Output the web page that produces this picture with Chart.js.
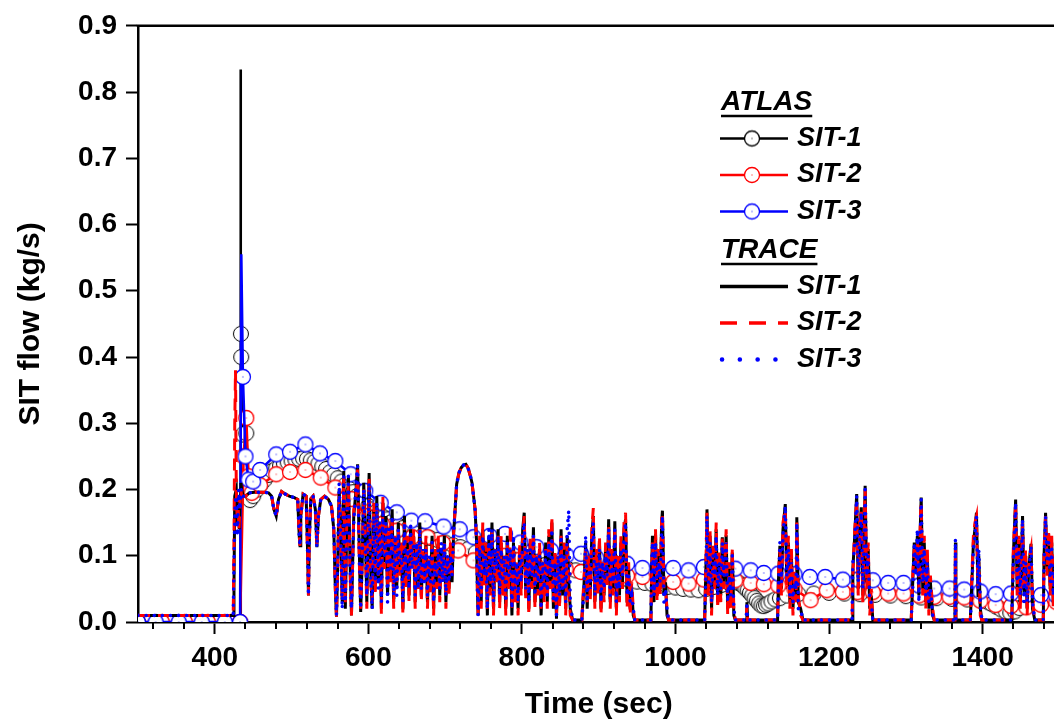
<!DOCTYPE html>
<html>
<head>
<meta charset="utf-8">
<title>SIT flow</title>
<script src="https://cdn.jsdelivr.net/npm/chart.js@4.4.0/dist/chart.umd.min.js"></script>
<style>
    html, body { margin: 0; padding: 0; background: #fff; overflow: hidden; }
    #wrap { width: 1054px; height: 723px; overflow: hidden; }
    canvas { display: block; }
</style>
</head>
<body>
<div id="wrap"><canvas id="sit-flow-chart" width="1070" height="723"></canvas></div>
<script>
// Axis range and tick labels
const xRange = [300, 1500];
const xTickLabels = [400, 600, 800, 1000, 1200, 1400];
const yTickValues = [0, 0.1, 0.2, 0.3, 0.4, 0.5, 0.6, 0.7, 0.8, 0.9];
const seriesNames = ['SIT-1', 'SIT-2', 'SIT-3'];
const groupNames = ['ATLAS', 'TRACE'];

// ATLAS measurements [time (s), flow (kg/s)]
const atlasSit1 = [
    [300,0],[316,0],[346,0],[376,0],[406,0],[433,0],[433.6,0.834],[434,0.435],[434.4,0.4],[436.5,0.283],[441,0.285],[444,0.198],[446,0.184],
    [450,0.19],[455,0.2],[460,0.208],[465,0.215],[470,0.222],[475,0.228],[480,0.232],[485,0.236],[490,0.239],[495,0.241],[500,0.243],
    [505,0.245],[510,0.246],[515,0.247],[520,0.246],[525,0.244],[530,0.242],[535,0.239],[540,0.235],[545,0.231],[550,0.226],[555,0.222],
    [560,0.217],[565,0.212],[570,0.207],[575,0.201],[580,0.196],[585,0.19],[590,0.185],[595,0.18],[600,0.175],[605,0.17],[610,0.166],
    [615,0.162],[620,0.158],[625,0.155],[630,0.151],[635,0.148],[640,0.145],[645,0.142],[650,0.139],[655,0.137],[660,0.134],[670,0.13],
    [680,0.127],[690,0.124],[700,0.12],[710,0.116],[720,0.113],[730,0.11],[740,0.105],[750,0.102],[760,0.1],[770,0.098],[780,0.096],
    [790,0.094],[800,0.092],[810,0.09],[820,0.088],[830,0.086],[840,0.084],[850,0.082],[860,0.08],[870,0.078],[880,0.076],[890,0.074],
    [900,0.071],[910,0.069],[920,0.067],[930,0.065],[940,0.063],[950,0.061],[960,0.059],[970,0.057],[980,0.055],[990,0.053],[1000,0.052],
    [1010,0.05],[1020,0.049],[1030,0.048],[1040,0.05],[1050,0.053],[1060,0.056],[1070,0.059],[1080,0.06],[1084,0.058],[1088,0.055],
    [1091,0.051],[1094,0.048],[1097,0.044],[1100,0.04],[1103,0.036],[1106,0.032],[1109,0.028],[1112,0.025],[1115,0.024],[1118,0.026],
    [1121,0.028],[1125,0.031],[1130,0.034],[1136,0.036],[1145,0.04],[1160,0.042],[1180,0.043],[1200,0.044],[1220,0.043],[1240,0.042],
    [1260,0.041],[1280,0.04],[1300,0.039],[1320,0.037],[1340,0.036],[1360,0.035],[1380,0.034],[1400,0.033],[1407,0.03],[1412,0.027],
    [1418,0.023],[1424,0.019],[1430,0.016],[1436,0.014],[1442,0.016],[1448,0.021],[1455,0.026],[1465,0.03],[1480,0.033],[1500,0.035]
];
const atlasSit2 = [
    [300,0],[331,0],[361,0],[391,0],[421,0],[433,0],[437.5,0.25],[441,0.308],[444,0.22],[448,0.195],[459,0.2065],[480,0.223],
    [498,0.2265],[518,0.2295],[538,0.218],[557,0.203],[578,0.1855],[598,0.16],[618,0.148],[637,0.138],[657,0.128],[677,0.128],[697,0.119],
    [717,0.108],[737,0.093],[757,0.098],[777,0.1],[797,0.094],[817,0.088],[837,0.084],[857,0.08],[877,0.0755],[897,0.073],[917,0.071],
    [937,0.07],[957,0.068],[977,0.064],[997,0.0605],[1017,0.058],[1037,0.064],[1057,0.063],[1078,0.063],[1098,0.059],[1115,0.057],
    [1134,0.055],[1155,0.05],[1176,0.033],[1197,0.048],[1218,0.0455],[1237,0.045],[1257,0.045],[1277,0.043],[1297,0.043],[1317,0.04],
    [1337,0.038],[1357,0.038],[1376,0.037],[1397,0.032],[1417,0.0255],[1437,0.024],[1457,0.022],[1476,0.026],[1496,0.03]
];
const atlasSit3 = [
    [300,0],[323,0],[353,0],[383,0],[413,0],[433,0],[434.5,0.555],[436.6,0.37],[440,0.25],[444,0.215],[450,0.212],[459,0.2295],[480,0.253],
    [498,0.257],[518,0.268],[537,0.2545],[557,0.243],[577,0.223],[596,0.198],[616,0.18],[637,0.1655],[656,0.153],[674,0.152],[698,0.144],
    [719,0.14],[737,0.128],[758,0.13],[778,0.133],[798,0.12],[819,0.113],[838,0.108],[858,0.1005],[877,0.103],[897,0.097],[917,0.092],
    [937,0.088],[957,0.0815],[977,0.082],[997,0.0815],[1017,0.078],[1037,0.083],[1057,0.08],[1078,0.0805],[1098,0.078],[1115,0.074],
    [1134,0.073],[1155,0.072],[1175,0.068],[1195,0.068],[1218,0.064],[1237,0.064],[1257,0.063],[1277,0.059],[1297,0.059],[1317,0.055],
    [1337,0.0505],[1357,0.0505],[1376,0.049],[1397,0.046],[1417,0.042],[1437,0.043],[1457,0.041],[1476,0.0405],[1496,0.04]
];

// TRACE calculation [time (s), flow (kg/s)]
const traceSit1 = [
    [300,.01],[424,.01],[425,.05],[426,.19],[428,.2],[429,.15],[430,.19],[431,.18],[432,.14],[433,.19],[434,.21],[435,.2],[437,.19],[440,.19],
    [445,.195],[452,.196],[462,.196],[470,.195],[474,.19],[477,.17],[480,.16],[483,.185],[487,.197],[492,.193],[497,.19],[503,.188],[508,.185],
    [510,.13],[511,.115],[512,.16],[515,.193],[519,.19],[521,.1],[522,.04],[523,.12],[525,.186],[528,.19],[531,.17],[533,.113],[535,.16],
    [538,.185],[543,.19],[548,.185],[552,.175],[555,.14],[557,.05],[558.5,.008],[560,.08],[562,.2],[564,.14],[566,.03],[568,.228],[570,.02],
    [572,.15],[574,.22],[576,.1],[578,.01],[581,.16],[584,.2],[586,.238],[588,.12],[590,.015],[592,.09],[594,.21],[596,.14],[598,.03],
    [601,.225],[603,.08],[605,.02],[607,.17],[609,.05],[611,.19],[613,.06],[615,.14],[617,.02],[619,.18],[621,.09],[623,.16],[625,.04],
    [627,.13],[629,.07],[631,.17],[633,.03],[635,.12],[637,.05],[639,.15],[641,.08],[643,.11],[645,.02],[647,.16],[649,.06],[651,.12],
    [653,.04],[655,.14],[657,.09],[659,.13],[661,.03],[663,.11],[665,.06],[667,.15],[669,.04],[671,.1],[673,.07],[675,.12],[677,.03],
    [679,.09],[681,.05],[683,.13],[685,.02],[687,.1],[689,.06],[691,.12],[693,.04],[695,.11],[697,.07],[699,.13],[701,.03],[703,.09],
    [705,.05],[707,.11],[709,.06],[711,.133],[713,.17],[715,.208],[718,.225],[721,.233],[724,.237],[727,.238],[730,.232],[733,.22],
    [735,.21],[737,.19],[739,.17],[741,.12],[742,.05],[743,.01],[745,.12],[747,.03],[749,.14],[751,.06],[753,.11],[755,.01],[757,.13],
    [759,.05],[761,.15],[763,.02],[765,.1],[767,.07],[769,.14],[771,.03],[773,.12],[775,.05],[777,.09],[779,.02],[781,.13],[783,.06],
    [785,.1],[787,.01],[789,.12],[791,.04],[793,.08],[795,.02],[797,.11],[799,.05],[801,.14],[803,.165],[805,.04],[807,.1],[809,.02],
    [811,.12],[813,.06],[815,.143],[817,.03],[819,.09],[821,.05],[823,.11],[825,.01],[827,.08],[829,.04],[831,.12],[833,.03],[835,.13],
    [837,.06],[839,.15],[841,.02],[843,.1],[845,.005],[847,.09],[849,.03],[851,.14],[853,.04],[855,.11],[857,.02],[859,.13],[861,.06],
    [863,.02],[866,.003],[878,.003],[881,.06],[883,.12],[885,.02],[887,.09],[889,.04],[891,.13],[893,.16],[895,.03],[897,.1],[899,.05],
    [901,.12],[903,.02],[905,.08],[907,.04],[909,.11],[911,.06],[913,.155],[915,.03],[917,.1],[919,.05],[921,.152],[923,.02],[925,.09],
    [927,.04],[929,.12],[931,.06],[933,.14],[935,.155],[937,.03],[939,.08],[941,.02],[943,.05],[945,.01],[947,.003],[968,.003],[969,.08],
    [970,.13],[972,.03],[974,.133],[976,.04],[978,.1],[980,.05],[982,.15],[983,.168],[985,.04],[987,.06],[989,.01],[991,.003],[1038,.003],
    [1040,.1],[1041,.17],[1043,.05],[1045,.13],[1047,.02],[1049,.11],[1051,.06],[1053,.14],[1055,.03],[1057,.1],[1059,.04],[1061,.128],
    [1063,.06],[1066,.131],[1068,.02],[1070,.08],[1072,.03],[1074,.105],[1076,.01],[1078,.003],[1092,.003],[1093,.03],[1094,.003],
    [1133,.003],[1134,.06],[1136,.115],[1138,.05],[1140,.14],[1143,.178],[1145,.06],[1147,.12],[1149,.03],[1151,.1],[1153,.02],[1155,.07],
    [1157,.04],[1158,.158],[1160,.03],[1163,.02],[1166,.003],[1230,.003],[1231,.08],[1233,.12],[1236,.193],[1238,.05],[1240,.14],
    [1242,.173],[1244,.04],[1246,.15],[1247,.2055],[1249,.06],[1251,.11],[1253,.02],[1255,.04],[1257,.003],[1307,.003],[1309,.06],
    [1311,.12],[1313,.08],[1315,.13],[1317,.04],[1319,.15],[1320,.188],[1322,.05],[1324,.12],[1326,.03],[1328,.1],[1330,.02],[1332,.06],
    [1335,.01],[1337,.003],[1364,.003],[1364.6,.12],[1365.2,.003],[1384,.003],[1386,.06],[1388,.12],[1390,.14],[1392,.165],[1394,.04],
    [1395,.1],[1397,.02],[1399,.003],[1438,.003],[1440,.1],[1443,.185],[1445,.05],[1447,.12],[1449,.03],[1452,.16],[1454,.04],[1456,.1],
    [1458,.02],[1460,.08],[1463,.118],[1465,.02],[1468,.003],[1479,.003],[1480,.1],[1482,.165],[1484,.08],[1486,.13],[1488,.05],[1490,.12],
    [1492,.03],[1495,.1],[1500,.08]
];
const traceSit2 = [
    [300,.01],[424,.01],[425,.12],[426,.3],[427,.38],[428,.2],[429,.16],[430,.19],[431.5,.14],[433,.18],[434,.2],[435,.19],[437,.19],[440,.19],
    [445,.195],[452,.196],[462,.196],[470,.195],[474,.19],[477,.17],[480,.16],[483,.185],[487,.197],[492,.193],[497,.19],[503,.188],[508,.185],
    [510,.13],[511,.115],[512,.16],[515,.193],[519,.19],[521,.1],[522,.04],[523,.12],[525,.186],[528,.19],[531,.17],[533,.113],[535,.16],
    [538,.185],[543,.19],[548,.185],[552,.175],[555,.14],[557,.05],[558.5,.008],[560,.08],[562,.19],[564,.12],[566,.03],[568,.22],[570,.03],
    [572,.16],[574,.21],[576,.08],[578,.01],[581,.17],[584,.19],[586,.23],[588,.1],[590,.02],[592,.1],[594,.2],[596,.12],[598,.02],
    [601,.22],[603,.06],[605,.03],[607,.18],[609,.04],[611,.17],[613,.07],[615,.15],[617,.01],[619,.19],[621,.08],[623,.15],[625,.05],
    [627,.14],[629,.06],[631,.16],[633,.02],[635,.13],[637,.06],[639,.14],[641,.07],[643,.12],[645,.01],[647,.15],[649,.05],[651,.13],
    [653,.03],[655,.13],[657,.08],[659,.14],[661,.02],[663,.12],[665,.05],[667,.14],[669,.03],[671,.11],[673,.06],[675,.13],[677,.02],
    [679,.1],[681,.04],[683,.12],[685,.01],[687,.11],[689,.05],[691,.13],[693,.03],[695,.1],[697,.06],[699,.12],[701,.02],[703,.1],
    [705,.04],[707,.12],[709,.07],[711,.133],[713,.17],[715,.208],[718,.225],[721,.233],[724,.237],[727,.238],[730,.232],[733,.22],
    [735,.21],[737,.19],[739,.17],[741,.12],[742,.05],[743,.01],[745,.13],[747,.02],[749,.15],[751,.05],[753,.12],[755,.02],[757,.12],
    [759,.04],[761,.14],[763,.01],[765,.11],[767,.06],[769,.13],[771,.02],[773,.13],[775,.04],[777,.1],[779,.01],[781,.12],[783,.05],
    [785,.147],[787,.02],[789,.11],[791,.03],[793,.09],[795,.01],[797,.12],[799,.04],[801,.13],[803,.16],[805,.03],[807,.11],[809,.01],
    [811,.13],[813,.05],[815,.13],[817,.02],[819,.1],[821,.04],[823,.12],[825,.02],[827,.09],[829,.03],[831,.11],[833,.02],[835,.14],
    [837,.05],[839,.16],[841,.03],[843,.11],[845,.01],[847,.1],[849,.02],[851,.13],[853,.05],[855,.12],[857,.01],[859,.12],[861,.05],
    [863,.01],[866,.003],[878,.003],[881,.07],[883,.11],[885,.03],[887,.1],[889,.03],[891,.14],[893,.172],[895,.02],[897,.11],[899,.04],
    [901,.13],[903,.01],[905,.09],[907,.03],[909,.12],[911,.05],[913,.145],[915,.02],[917,.11],[919,.04],[921,.14],[923,.01],[925,.1],
    [927,.03],[929,.13],[931,.05],[933,.15],[935,.165],[937,.02],[939,.09],[941,.01],[943,.06],[945,.02],[947,.003],[968,.003],[969,.07],
    [970,.12],[972,.04],[974,.14],[976,.03],[978,.11],[980,.04],[982,.16],[983,.165],[985,.05],[987,.05],[989,.02],[991,.003],[1038,.003],
    [1040,.11],[1041,.165],[1043,.04],[1045,.14],[1047,.01],[1049,.12],[1051,.05],[1053,.15],[1055,.02],[1057,.11],[1059,.03],[1061,.13],
    [1063,.05],[1066,.14],[1068,.01],[1070,.09],[1072,.02],[1074,.11],[1076,.02],[1078,.003],[1092,.003],[1093,.025],[1094,.003],
    [1133,.003],[1134,.07],[1136,.11],[1138,.04],[1140,.15],[1143,.17],[1145,.05],[1147,.13],[1149,.02],[1151,.11],[1153,.01],[1155,.08],
    [1157,.03],[1158,.15],[1160,.04],[1163,.01],[1166,.003],[1230,.003],[1231,.07],[1233,.13],[1236,.185],[1238,.04],[1240,.15],
    [1242,.17],[1244,.03],[1246,.16],[1247,.2],[1249,.05],[1251,.12],[1253,.01],[1255,.05],[1257,.003],[1307,.003],[1309,.07],
    [1311,.11],[1313,.09],[1315,.12],[1317,.05],[1319,.16],[1320,.18],[1322,.04],[1324,.13],[1326,.02],[1328,.11],[1330,.01],[1332,.07],
    [1335,.02],[1337,.003],[1364,.003],[1364.6,.11],[1365.2,.003],[1384,.003],[1386,.07],[1388,.13],[1390,.15],[1392,.16],[1394,.05],
    [1395,.09],[1397,.01],[1399,.003],[1438,.003],[1440,.11],[1443,.18],[1445,.04],[1447,.13],[1449,.02],[1452,.15],[1454,.05],[1456,.11],
    [1458,.01],[1460,.09],[1463,.11],[1465,.03],[1468,.003],[1479,.003],[1480,.11],[1482,.16],[1484,.07],[1486,.14],[1488,.04],[1490,.13],
    [1492,.02],[1495,.11],[1500,.09]
];
const traceSit3 = [
    [300,.01],[424,.01],[425.5,.12],[426.5,.18],[428,.19],[429.5,.13],[431,.2],[433,.17],[434.5,.2],[436,.19],[440,.19],
    [445,.195],[452,.196],[462,.196],[470,.195],[474,.19],[477,.17],[480,.16],[483,.185],[487,.197],[492,.193],[497,.19],[503,.188],[508,.185],
    [510,.13],[511,.115],[512,.16],[515,.193],[519,.19],[521,.1],[522,.04],[523,.12],[525,.186],[528,.19],[531,.17],[533,.113],[535,.16],
    [538,.185],[543,.19],[548,.185],[552,.175],[555,.14],[557,.06],[558.5,.01],[560,.09],[562,.21],[564,.13],[566,.02],[568,.225],[570,.03],
    [572,.14],[574,.22],[576,.09],[578,.02],[581,.15],[584,.21],[586,.235],[588,.11],[590,.02],[592,.1],[594,.2],[596,.13],[598,.04],
    [601,.21],[603,.07],[605,.02],[607,.16],[609,.06],[611,.18],[613,.05],[615,.15],[617,.03],[619,.17],[621,.1],[623,.15],[625,.03],
    [627,.14],[629,.08],[631,.16],[633,.04],[635,.13],[637,.04],[639,.14],[641,.09],[643,.1],[645,.03],[647,.15],[649,.07],[651,.11],
    [653,.05],[655,.15],[657,.08],[659,.12],[661,.04],[663,.12],[665,.05],[667,.14],[669,.05],[671,.11],[673,.06],[675,.11],[677,.04],
    [679,.1],[681,.06],[683,.12],[685,.03],[687,.09],[689,.07],[691,.11],[693,.05],[695,.12],[697,.06],[699,.12],[701,.04],[703,.1],
    [705,.06],[707,.1],[709,.07],[711,.133],[713,.17],[715,.208],[718,.225],[721,.233],[724,.237],[727,.238],[730,.232],[733,.22],
    [735,.21],[737,.19],[739,.17],[741,.12],[742,.05],[743,.01],[745,.11],[747,.04],[749,.13],[751,.07],[753,.1],[755,.02],[757,.14],
    [759,.06],[761,.14],[763,.03],[765,.11],[767,.08],[769,.13],[771,.04],[773,.11],[775,.06],[777,.1],[779,.03],[781,.12],[783,.07],
    [785,.11],[787,.02],[789,.13],[791,.05],[793,.09],[795,.03],[797,.1],[799,.06],[801,.13],[803,.15],[805,.05],[807,.11],[809,.03],
    [811,.11],[813,.07],[815,.13],[817,.04],[819,.1],[821,.06],[823,.1],[825,.02],[827,.09],[829,.05],[831,.11],[833,.04],[835,.12],
    [837,.07],[839,.14],[841,.03],[843,.09],[845,.01],[847,.1],[849,.04],[851,.13],[853,.05],[855,.1],[857,.03],[859,.14],[861,.168],
    [863,.03],[866,.003],[878,.003],[881,.05],[883,.13],[885,.03],[887,.08],[889,.05],[891,.12],[893,.15],[895,.04],[897,.09],[899,.06],
    [901,.11],[903,.03],[905,.09],[907,.05],[909,.1],[911,.07],[913,.14],[915,.04],[917,.09],[919,.06],[921,.14],[923,.03],[925,.08],
    [927,.05],[929,.11],[931,.07],[933,.13],[935,.15],[937,.04],[939,.07],[941,.03],[943,.04],[945,.02],[947,.003],[968,.003],[969,.09],
    [970,.12],[972,.04],[974,.12],[976,.05],[978,.09],[980,.06],[982,.14],[983,.16],[985,.03],[987,.05],[989,.02],[991,.003],[1038,.003],
    [1040,.09],[1041,.16],[1043,.06],[1045,.12],[1047,.03],[1049,.1],[1051,.07],[1053,.13],[1055,.04],[1057,.09],[1059,.05],[1061,.12],
    [1063,.07],[1066,.12],[1068,.03],[1070,.07],[1072,.04],[1074,.1],[1076,.02],[1078,.003],[1092,.003],[1093,.03],[1094,.003],
    [1133,.003],[1134,.05],[1136,.12],[1138,.06],[1140,.13],[1143,.175],[1145,.07],[1147,.11],[1149,.04],[1151,.09],[1153,.03],[1155,.06],
    [1157,.05],[1158,.15],[1160,.02],[1163,.02],[1166,.003],[1230,.003],[1231,.09],[1233,.11],[1236,.19],[1238,.06],[1240,.13],
    [1242,.165],[1244,.05],[1246,.14],[1247,.2],[1249,.07],[1251,.1],[1253,.03],[1255,.03],[1257,.003],[1307,.003],[1309,.05],
    [1311,.12],[1313,.07],[1315,.14],[1317,.03],[1319,.14],[1320,.185],[1322,.06],[1324,.11],[1326,.04],[1328,.09],[1330,.03],[1332,.05],
    [1335,.01],[1337,.003],[1364,.003],[1364.6,.125],[1365.2,.003],[1384,.003],[1386,.05],[1388,.11],[1390,.13],[1392,.16],[1394,.05],
    [1395,.11],[1397,.03],[1399,.003],[1438,.003],[1440,.09],[1443,.18],[1445,.06],[1447,.11],[1449,.04],[1452,.155],[1454,.03],[1456,.09],
    [1458,.03],[1460,.07],[1463,.115],[1465,.03],[1468,.003],[1479,.003],[1480,.09],[1482,.16],[1484,.09],[1486,.12],[1488,.06],[1490,.11],
    [1492,.04],[1495,.09],[1500,.07]
];

const FONT = '"Liberation Sans", Arial, sans-serif';
const colors = ['#000000', '#ff0000', '#0000ff'];
const traceDash = [[], [12, 8], [0.1, 8]];

// open circle marker (white inside) with a small centre dot, like the Origin symbol
function makeMarker(color, lineWidth) {
    const c = document.createElement('canvas');
    c.width = 20;
    c.height = 20;
    const g = c.getContext('2d');
    g.beginPath();
    g.arc(10, 10, 7.5, 0, Math.PI * 2);
    g.fillStyle = '#ffffff';
    g.fill();
    g.lineWidth = lineWidth;
    g.strokeStyle = color;
    g.stroke();
    g.fillStyle = color;
    g.fillRect(9.5, 9.5, 1, 1);
    return c;
}

const plotMarkers = [makeMarker(colors[0], 1.0), makeMarker(colors[1], 1.3), makeMarker(colors[2], 1.3)];
const legendMarkers = colors.map(c => makeMarker(c, 1.3));

function toPoints(pairs) {
    return pairs.map(p => ({ x: p[0], y: p[1] }));
}

const atlasData = [atlasSit1, atlasSit2, atlasSit3];
const traceData = [traceSit1, traceSit2, traceSit3];

const datasets = [];
traceData.forEach((d, i) => {
    datasets.push({
        label: 'TRACE ' + seriesNames[i],
        data: toPoints(d),
        borderColor: colors[i],
        borderWidth: i === 2 ? 3.5 : 3,
        borderDash: traceDash[i],
        borderCapStyle: i === 2 ? 'round' : 'butt',
        pointRadius: 0,
        tension: 0,
        order: 2 - i
    });
});
atlasData.forEach((d, i) => {
    datasets.push({
        label: 'ATLAS ' + seriesNames[i],
        data: toPoints(d),
        borderColor: colors[i],
        borderWidth: 2.6,
        pointStyle: plotMarkers[i],
        // the peak points carry no symbol in the original
        pointRadius: ctx => (ctx.raw && ctx.raw.y > 0.5) ? 0 : 8,
        tension: 0,
        order: 5 - i
    });
});

// frame top line + short minor ticks on the time axis
const axisDecor = {
    id: 'axisDecor',
    afterDraw(chart) {
        const { ctx, chartArea: a, scales: { x } } = chart;
        ctx.save();
        ctx.strokeStyle = '#000';
        ctx.lineWidth = 2.5;
        ctx.beginPath();
        ctx.moveTo(a.left - 1.25, a.top);
        ctx.lineTo(a.right + 10, a.top);
        ctx.stroke();
        ctx.lineWidth = 2;
        x.ticks.forEach(t => {
            if (xTickLabels.includes(t.value)) return;
            const px = Math.round(x.getPixelForValue(t.value));
            ctx.beginPath();
            ctx.moveTo(px, a.bottom);
            ctx.lineTo(px, a.bottom + 7);
            ctx.stroke();
        });
        ctx.restore();
    }
};

// two-group legend (ATLAS / TRACE) drawn inside the plot
const groupLegend = {
    id: 'groupLegend',
    afterDraw(chart) {
        const ctx = chart.ctx;
        const x0 = 720, x1 = 788, tx = 797;
        const rowGap = 36.5;
        ctx.save();
        ctx.fillStyle = '#000';
        ctx.textBaseline = 'middle';
        let y = 102;
        groupNames.forEach((g, gi) => {
            ctx.font = 'italic bold 28px ' + FONT;
            ctx.fillStyle = '#000';
            ctx.fillText(g, 721, y);
            const w = ctx.measureText(g).width;
            ctx.strokeStyle = '#000';
            ctx.lineWidth = 2.5;
            ctx.setLineDash([]);
            ctx.beginPath();
            ctx.moveTo(721, y + 14);
            ctx.lineTo(721 + w, y + 14);
            ctx.stroke();
            seriesNames.forEach((s, i) => {
                y += rowGap;
                ctx.strokeStyle = colors[i];
                if (gi === 0) {
                    ctx.lineWidth = 2.5;
                    ctx.setLineDash([]);
                    ctx.lineCap = 'butt';
                    ctx.beginPath();
                    ctx.moveTo(x0, y);
                    ctx.lineTo(x1, y);
                    ctx.stroke();
                    ctx.drawImage(legendMarkers[i], 752 - 10, y - 10);
                } else {
                    ctx.lineWidth = i === 2 ? 4.5 : 3.5;
                    ctx.setLineDash(i === 0 ? [] : (i === 1 ? [17, 12] : [0.1, 17.7]));
                    ctx.lineCap = i === 2 ? 'round' : 'butt';
                    ctx.beginPath();
                    ctx.moveTo(i === 2 ? 722 : x0, y);
                    ctx.lineTo(x1, y);
                    ctx.stroke();
                }
                ctx.setLineDash([]);
                ctx.font = 'italic bold 27px ' + FONT;
                ctx.fillStyle = '#000';
                ctx.fillText(s, tx, y);
            });
            y += rowGap + 2;
        });
        ctx.restore();
    }
};

// minor ticks every 40 s, labels every 200 s
const xMinorTicks = [];
for (let v = 320; v < xRange[1]; v += 40) xMinorTicks.push(v);

Chart.defaults.font.family = FONT;
Chart.defaults.color = '#000';

new Chart(document.getElementById('sit-flow-chart'), {
    type: 'line',
    data: { datasets: datasets },
    options: {
        responsive: false,
        animation: false,
        events: [],
        layout: { padding: { left: 0, top: 22, right: 8, bottom: 0 } },
        plugins: {
            legend: { display: false },
            tooltip: { enabled: false }
        },
        scales: {
            x: {
                type: 'linear',
                min: xRange[0],
                max: xRange[1],
                afterBuildTicks: s => { s.ticks = xMinorTicks.map(v => ({ value: v })); },
                afterFit: s => { s.height = 101; },
                ticks: {
                    autoSkip: false,
                    maxRotation: 0,
                    padding: 7,
                    font: { size: 28, weight: 'bold' },
                    callback: v => xTickLabels.includes(v) ? String(v) : ''
                },
                grid: {
                    drawOnChartArea: false,
                    drawTicks: true,
                    tickLength: 12,
                    tickWidth: 2,
                    tickColor: c => (c.tick && xTickLabels.includes(c.tick.value)) ? '#000' : 'rgba(0,0,0,0)'
                },
                border: { display: true, color: '#000', width: 2.5 },
                title: {
                    display: true,
                    text: 'Time (sec)',
                    font: { size: 30, weight: 'bold' },
                    padding: { top: 0, bottom: 0 }
                }
            },
            y: {
                min: 0,
                max: 0.9,
                afterBuildTicks: s => { s.ticks = yTickValues.map(v => ({ value: v })); },
                afterFit: s => { s.width = 138; },
                ticks: {
                    padding: 9,
                    font: { size: 28, weight: 'bold' },
                    callback: v => v.toFixed(1)
                },
                grid: {
                    drawOnChartArea: false,
                    drawTicks: true,
                    tickLength: 12,
                    tickWidth: 2,
                    tickColor: '#000'
                },
                border: { display: true, color: '#000', width: 2.5 },
                title: {
                    display: true,
                    text: 'SIT flow (kg/s)',
                    font: { size: 30, weight: 'bold' },
                    padding: { top: 13, bottom: 0 }
                }
            }
        }
    },
    plugins: [axisDecor, groupLegend]
});
</script>
</body>
</html>
